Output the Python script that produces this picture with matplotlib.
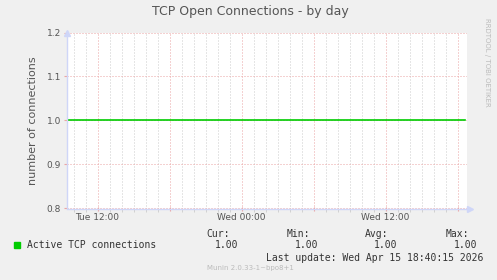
import matplotlib
matplotlib.use("Agg")
import matplotlib.pyplot as plt
from matplotlib.ticker import FixedLocator

# hours since Tue 00:00
hours = [9.45, 42.6]
connections = [1.00, 1.00]

x_major = [12, 18, 24, 30, 36, 42]
x_minor = [h for h in range(10, 43) if h not in x_major]
x_labels = {12: "Tue 12:00", 24: "Wed 00:00", 36: "Wed 12:00"}
y_ticks = [0.8, 0.9, 1.0, 1.1, 1.2]

stat_names = ["Cur:", "Min:", "Avg:", "Max:"]
stat_values = [1.00, 1.00, 1.00, 1.00]

W, H = 497, 280
fig = plt.figure(figsize=(W / 100, H / 100), dpi=100, facecolor="#F0F0F0")
ax = fig.add_axes([66.5 / W, 71.5 / H, 400 / W, 176 / H], facecolor="white")
ax.set_axisbelow(True)

ax.plot(hours, connections, color="#00CC00", lw=1.2, zorder=3)

x0 = 12 - 31 / 12
ax.set_xlim(x0, x0 + 400 / 12)
ax.set_ylim(0.8, 1.2)

ax.xaxis.set_major_locator(FixedLocator(x_major))
ax.xaxis.set_minor_locator(FixedLocator(x_minor))
ax.set_xticklabels([x_labels.get(h, "") for h in x_major])
ax.set_yticks(y_ticks)
ax.set_yticklabels([f"{v:.1f}" for v in y_ticks])

ax.grid(which="minor", axis="x", color="#CCCCCC", ls=(0, (1, 2)), lw=0.72)
ax.grid(which="major", color="#EBA5A5", ls=(0, (1, 2)), lw=0.72)

for s in ["top", "right"]:
    ax.spines[s].set_visible(False)
for s in ["left", "bottom"]:
    ax.spines[s].set_color("#CFD6F8")
    ax.spines[s].set_linewidth(1)
    ax.spines[s].set_zorder(4)

ax.tick_params(which="both", colors="#CCCCCC", labelcolor="#555555", labelsize=6.5, length=2, pad=2)
ax.tick_params(axis="y", which="major", colors="#EBA5A5", labelcolor="#555555", length=2)
ax.tick_params(axis="x", which="major", colors="#EBA5A5", labelcolor="#555555", length=3, direction="inout")

# axis arrows
ax.plot([0], [1.0], marker="^", ms=4, color="#CFD6F8", transform=ax.transAxes, clip_on=False)
ax.plot([1.0075], [0], marker=">", ms=4, color="#CFD6F8", transform=ax.transAxes, clip_on=False)

ax.set_ylabel("number of connections", fontsize=8, color="#555555", labelpad=6)
fig.text(250 / W, 1 - 12 / H, "TCP Open Connections - by day", fontsize=9, color="#555555",
         ha="center", va="center")
fig.text(487 / W, 1 - 62 / H, "RRDTOOL / TOBI OETIKER", fontsize=5, color="#BBBBBB",
         rotation=-90, ha="center", va="center")

# legend block
mono = "DejaVu Sans Mono"
fig.patches.append(plt.Rectangle((14 / W, 1 - 248 / H), 6 / W, 6 / H, transform=fig.transFigure,
                                 color="#00CC00"))
fig.text(27 / W, 1 - 245 / H, "Active TCP connections", family=mono, fontsize=7,
         color="#333333", va="center")
col_right = [238, 318, 397, 477]
head_right = [230, 310, 388, 469]
for name, val, xr, hr in zip(stat_names, stat_values, col_right, head_right):
    fig.text(hr / W, 1 - 234 / H, name, family=mono, fontsize=7, color="#333333",
             ha="right", va="center")
    fig.text(xr / W, 1 - 245 / H, f"{val:.2f}", family=mono, fontsize=7, color="#333333",
             ha="right", va="center")
fig.text(483 / W, 1 - 258 / H, "Last update: Wed Apr 15 18:40:15 2026", family=mono,
         fontsize=7, color="#333333", ha="right", va="center")
fig.text(250 / W, 1 - 268 / H, "Munin 2.0.33-1~bpo8+1", fontsize=5, color="#BBBBBB",
         ha="center", va="center")

fig.savefig("out.png", dpi=100, facecolor=fig.get_facecolor())
